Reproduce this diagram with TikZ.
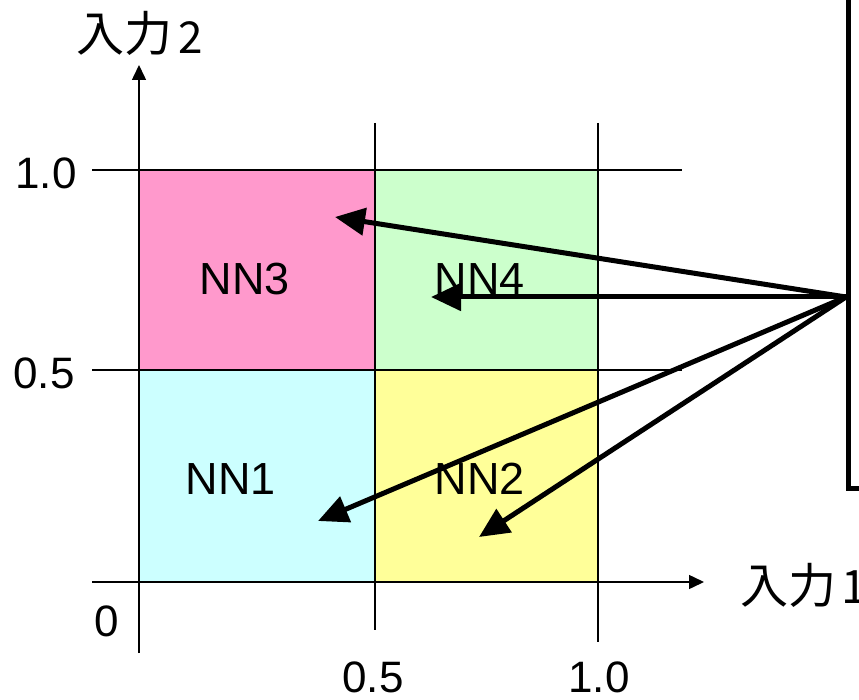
\documentclass[tikz,border=0pt]{standalone}
\usepackage{fontspec}
\setmainfont{Liberation Sans}
\newfontfamily\jpfont{Noto Sans CJK JP}
\usetikzlibrary{arrows.meta}
\definecolor{nnpink}{HTML}{FF99CC}
\definecolor{nngreen}{HTML}{CCFFCC}
\definecolor{nncyan}{HTML}{CCFFFF}
\definecolor{nnyellow}{HTML}{FFFF99}
\begin{document}
\begin{tikzpicture}[x=1pt,y=-1pt,
  gridline/.style={line width=1.5pt},
  axisline/.style={line width=1.5pt,-{Triangle[length=15pt,width=14pt]}},
  bigarrow/.style={line width=5pt,-{Triangle[length=30pt,width=27pt]}},
  lbl/.style={inner sep=0pt,font=\fontsize{44}{50}\selectfont},
  jplbl/.style={inner sep=0pt,font=\jpfont\fontsize{48}{54}\selectfont},
  nnlbl/.style={inner sep=0pt,font=\fontsize{45}{50}\selectfont}]
\useasboundingbox (0,0) rectangle (859,700);
% coloured regions
\fill[nnpink]   (139,170) rectangle (375,370);
\fill[nngreen]  (375,170) rectangle (598,370);
\fill[nncyan]   (139,370) rectangle (375,582);
\fill[nnyellow] (375,370) rectangle (598,582);
% grid lines
\draw[gridline] (92,170) -- (682,170);
\draw[gridline] (92,370) -- (682,370);
\draw[gridline] (375,123) -- (375,630);
\draw[gridline] (598,123) -- (598,642);
% axes
\coordinate (xs) at (92,582);
\coordinate (xe) at (704,582);
\coordinate (ys) at (139,653);
\coordinate (ye) at (139,65);
\draw[axisline] (xs) -- (xe);
\draw[axisline] (ys) -- (ye);
% tick labels
\node[lbl] (y10) at (46,173) {1.0};
\node[lbl] (y05) at (44,373) {0.5};
\node[lbl] (zero) at (107,621) {0};
\node[lbl] (x05) at (373,677) {0.5};
\node[lbl] (x10) at (599,677) {1.0};
% axis titles
\node[jplbl] (ytitle) at (124,33) {入力};
\node[inner sep=0pt,font=\jpfont\fontsize{44}{50}\selectfont] (ytitlen) at (191,38) {2};
\node[jplbl] (xtitle) at (788,585) {入力};
\node[inner sep=0pt,font=\jpfont\fontsize{46}{50}\selectfont,anchor=west] (xtitlen) at (841,587) {1};
% region labels
\node[nnlbl] (nn3) at (245,279) {NN3};
\node[nnlbl] (nn4) at (480,279) {NN4};
\node[nnlbl] (nn1) at (231,479) {NN1};
\node[nnlbl] (nn2) at (480,479) {NN2};
% bracket on the right
\draw[line width=5pt] (848,-5) -- (848,488) -- (862,488);
% arrows
\coordinate (src) at (846,297);
\coordinate (t3) at (335,217);
\coordinate (t4) at (431,297);
\coordinate (t1) at (318,521);
\coordinate (t2) at (479,537);
\draw[bigarrow] (src) -- (t3);
\draw[bigarrow] (src) -- (t4);
\draw[bigarrow] (src) -- (t1);
\draw[bigarrow] (src) -- (t2);
\end{tikzpicture}
\end{document}
